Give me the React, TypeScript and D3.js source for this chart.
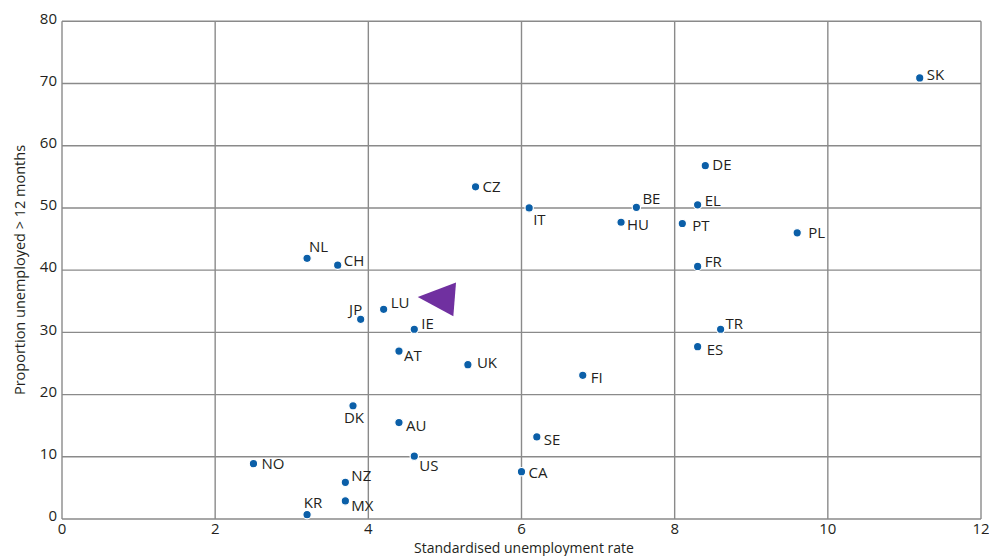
import { useEffect } from "react";
import * as d3 from "d3";

// standardised unemployment rate (%) and share unemployed > 12 months (%)
const countries = ["SK", "DE", "CZ", "IT", "BE", "EL", "HU", "PT", "PL", "FR", "NL", "CH", "LU", "JP", "IE", "AT", "UK", "FI", "TR", "ES", "DK", "AU", "SE", "NO", "US", "CA", "NZ", "MX", "KR"];
const unemploymentRate = [11.2, 8.4, 5.4, 6.1, 7.5, 8.3, 7.3, 8.1, 9.6, 8.3, 3.2, 3.6, 4.2, 3.9, 4.6, 4.4, 5.3, 6.8, 8.6, 8.3, 3.8, 4.4, 6.2, 2.5, 4.6, 6.0, 3.7, 3.7, 3.2];
const longTermShare = [70.9, 56.8, 53.4, 50.0, 50.1, 50.5, 47.7, 47.5, 46.0, 40.6, 41.9, 40.8, 33.7, 32.1, 30.5, 27.0, 24.8, 23.1, 30.5, 27.7, 18.2, 15.5, 13.2, 8.9, 10.1, 7.6, 5.9, 2.9, 0.7];

const xTicks = [0, 2, 4, 6, 8, 10, 12];
const yTicks = [0, 10, 20, 30, 40, 50, 60, 70, 80];

// purple pointer next to LU, in data units
const pointer = [[4.645, 35.7], [5.145, 38.0], [5.11, 32.6]];

// label placement around each dot: [dx, dy, anchor]
const labelPos: Record<string, [number, number, string]> = {
  SK: [7, -3.5, "start"], DE: [7, -1, "start"], CZ: [7, 0, "start"], IT: [4, 12, "start"],
  BE: [6, -9, "start"], EL: [7, -4.5, "start"], HU: [6, 3, "start"], PT: [10, 2, "start"],
  PL: [11, -0.5, "start"], FR: [7, -5, "start"], NL: [2, -12, "start"], CH: [6, -4, "start"],
  LU: [7, -7, "start"], JP: [1.5, -10, "end"], IE: [7, -6, "start"], AT: [5, 4.5, "start"],
  UK: [9, -1.5, "start"], FI: [8, 2, "start"], TR: [5, -5.5, "start"], ES: [9, 3.5, "start"],
  DK: [1, 12, "middle"], AU: [7, 3, "start"], SE: [7, 3, "start"], NO: [8, 0.5, "start"],
  US: [5, 9.5, "start"], CA: [7, 0.7, "start"], NZ: [6, -7, "start"], MX: [6, 4.5, "start"],
  KR: [6, -11.6, "middle"],
};

const W = 989;
const H = 556;
const font = "'Open Sans', sans-serif";
const ink = "#231f20";
const grid = "#8a8a8a";

export default function App() {
  useEffect(() => {
    document.body.style.margin = "0";
  }, []);

  const x = d3.scaleLinear().domain([0, 12]).range([62, 981]);
  const y = d3.scaleLinear().domain([0, 80]).range([519, 21.3]);

  const points = countries.map((c, i) => ({ c, u: unemploymentRate[i], l: longTermShare[i] }));
  const tri = d3.line()(pointer.map(([a, b]) => [x(a), y(b)] as [number, number])) + "Z";

  return (
    <svg width={W} height={H} style={{ display: "block" }} fontFamily={font}>
      <rect width={W} height={H} fill="#fff" />
      {xTicks.map((t) => (
        <line key={"gx" + t} x1={x(t)} x2={x(t)} y1={y(0)} y2={y(80)} stroke={grid} strokeWidth={1.4} />
      ))}
      {yTicks.map((t) => (
        <line key={"gy" + t} x1={x(0)} x2={x(12)} y1={y(t)} y2={y(t)} stroke={grid} strokeWidth={1.4} />
      ))}
      {xTicks.map((t) => (
        <text key={"tx" + t} x={x(t)} y={y(0) + 4} dy="0.71em" textAnchor="middle" fontSize={15} fill={ink}>
          {t}
        </text>
      ))}
      {yTicks.map((t) => (
        <text key={"ty" + t} x={x(0) - 5} y={y(t) - 3} dy="0.35em" textAnchor="end" fontSize={15} fill={ink}>
          {t}
        </text>
      ))}
      <text x={524} y={548} dy="0.35em" textAnchor="middle" fontSize={14} fill={ink}>
        Standardised unemployment rate
      </text>
      <text transform={`translate(20,270) rotate(-90)`} dy="0.35em" textAnchor="middle" fontSize={14.5} fill={ink}>
        Proportion unemployed &gt; 12 months
      </text>
      {points.map((p) => (
        <circle key={p.c} cx={x(p.u)} cy={y(p.l)} r={4.2} fill="#0b5fa8" stroke="#fff" strokeWidth={1.2} />
      ))}
      {points.map((p) => {
        const [dx, dy, anchor] = labelPos[p.c];
        return (
          <text
            key={"l" + p.c}
            x={x(p.u) + dx}
            y={y(p.l) + dy}
            dy="0.35em"
            textAnchor={anchor}
            fontSize={15}
            fill={ink}
          >
            {p.c}
          </text>
        );
      })}
      <path d={tri} fill="#7030a0" />
    </svg>
  );
}
